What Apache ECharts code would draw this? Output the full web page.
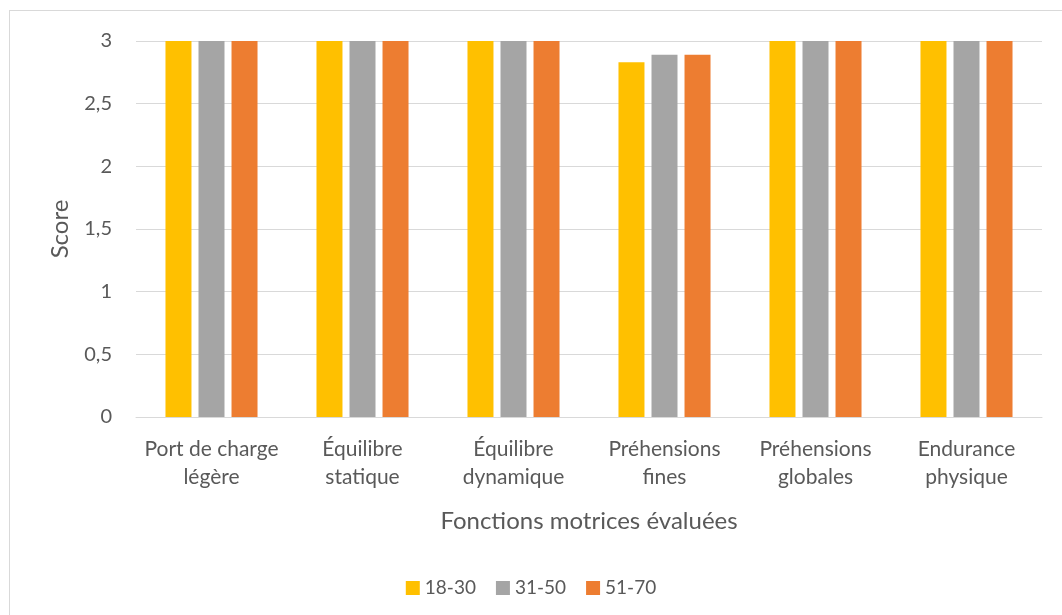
<!DOCTYPE html>
<html><head><meta charset="utf-8">
<script src="https://cdn.jsdelivr.net/npm/echarts@6/dist/echarts.min.js"></script>
<style>
html,body{margin:0;padding:0;background:#fff;overflow:hidden;}
#frame{position:absolute;left:9px;top:10px;width:1100px;height:700px;border:1px solid #d9d9d9;box-sizing:border-box;}
#chart{position:absolute;left:0;top:0;width:1062px;height:615px;}
</style></head>
<body>
<div id="frame"></div>
<div id="chart"></div>
<script>
const categories = ['Port de charge\nlégère','Équilibre\nstatique','Équilibre\ndynamique','Préhensions\nfines','Préhensions\nglobales','Endurance\nphysique'];
const seriesNames = ['18-30','31-50','51-70'];
const values1830 = [3, 3, 3, 2.83, 3, 3];
const values3150 = [3, 3, 3, 2.89, 3, 3];
const values5170 = [3, 3, 3, 2.89, 3, 3];
const colors = ['#ffc000','#a5a5a5','#ed7d31'];
const font = 'Lato, "Open Sans", sans-serif';

const chart = echarts.init(document.getElementById('chart'), null, {renderer:'canvas'});
const data = [values1830, values3150, values5170];
chart.setOption({
  animation:false,
  textStyle:{fontFamily:font},
  grid:{left:136,right:20,top:41,bottom:198},
  legend:{
    top:571,left:'center',itemWidth:14,itemHeight:14,itemGap:20,icon:'rect',
    textStyle:{color:'#595959',fontSize:19,lineHeight:24,fontFamily:font}
  },
  xAxis:{
    type:'category',data:categories,
    axisLine:{lineStyle:{color:'#d9d9d9'}},axisTick:{show:false},
    axisLabel:{interval:0,hideOverlap:false,color:'#595959',fontSize:21,lineHeight:28,margin:18,fontFamily:font},
    name:'Fonctions motrices évaluées',nameLocation:'middle',nameGap:92,
    nameTextStyle:{color:'#595959',fontSize:24,fontFamily:font}
  },
  yAxis:{
    type:'value',min:0,max:3,interval:0.5,
    axisLabel:{color:'#595959',fontSize:20,margin:24,fontFamily:font,formatter:v=>String(v).replace('.',',')},
    splitLine:{lineStyle:{color:'#d9d9d9'}},
    name:'Score',nameLocation:'middle',nameGap:64,
    nameTextStyle:{color:'#595959',fontSize:24,fontFamily:font}
  },
  series: seriesNames.map((n,i)=>({
    name:n,type:'bar',data:data[i],barWidth:26,barGap:'27%',
    itemStyle:{color:colors[i]}
  }))
});
</script>
</body></html>
